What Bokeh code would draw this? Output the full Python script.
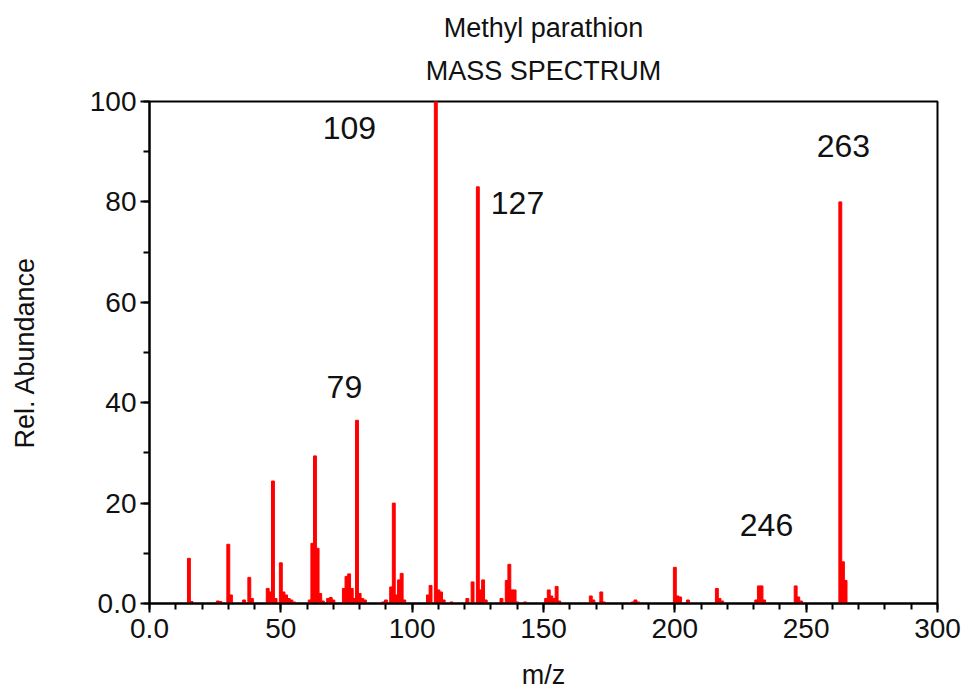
from bokeh.plotting import figure
from bokeh.models import (Range1d, Title, CustomJSTickFormatter, FixedTicker,
                          ColumnDataSource, LabelSet)
from bokeh.core.properties import value
from bokeh.embed import file_html
from bokeh.resources import INLINE

# Methyl parathion EI mass spectrum: m/z and relative abundance (%)
mz = [15, 16, 26, 27, 30, 31, 36, 38, 39,
      45, 46, 47, 48, 50, 51, 52, 53, 54, 55,
      61, 62, 63, 64, 65, 66, 68, 69, 70,
      74, 75, 76, 77, 78, 79, 80, 81, 82,
      89, 90, 92, 93, 94, 95, 96, 97,
      106, 107, 109, 110, 111, 112, 115,
      121, 123, 125, 126, 127, 128,
      134, 136, 137, 138, 139, 140, 143,
      151, 152, 153, 154, 155, 156,
      168, 169, 172, 173, 184, 185, 186,
      200, 201, 202, 205, 216, 217, 218,
      231, 232, 233, 234, 246, 247, 248,
      263, 264, 265]
abundance = [9.0, 0.4, 0.5, 0.4, 11.8, 1.7, 0.7, 5.2, 1.0,
             3.0, 2.3, 24.4, 1.0, 8.1, 2.3, 1.7, 1.0, 0.7, 0.3,
             0.7, 12.0, 29.4, 11.0, 2.0, 0.5, 1.0, 1.2, 0.7,
             3.0, 5.4, 5.9, 3.0, 1.0, 36.5, 2.0, 1.0, 0.7,
             0.3, 0.7, 3.3, 20.0, 1.7, 4.7, 6.0, 0.7,
             1.7, 3.6, 100.0, 2.7, 2.3, 0.7, 0.3,
             1.0, 4.3, 83.0, 2.7, 4.7, 0.7,
             1.0, 4.6, 7.8, 2.7, 2.7, 0.3, 0.3,
             1.0, 2.7, 1.5, 1.0, 3.4, 0.5,
             1.5, 0.7, 2.3, 0.3, 0.3, 0.7, 0.3,
             7.2, 1.5, 1.3, 0.7, 3.0, 1.0, 0.5,
             0.7, 3.5, 3.5, 0.7, 3.5, 1.3, 0.5,
             80.0, 8.3, 4.6]

# annotated ions: text and where the annotation sits (data units)
peak_text = ["109", "127", "263", "79", "246"]
peak_text_x = [76.1, 140.1, 264.2, 74.2, 234.9]
peak_text_y = [94.8, 79.7, 91.2, 43.1, 15.6]

FONT = "Liberation Sans"
INK = "#111111"

p = figure(width=965, height=692, output_backend="svg", toolbar_location=None,
           x_range=Range1d(0, 300), y_range=Range1d(0, 100),
           min_border_left=149, min_border_right=28,
           min_border_top=101, min_border_bottom=88)

p.vbar(x=mz, top=abundance, width=1.1, color="#ff0000")

labels = ColumnDataSource(dict(x=peak_text_x, y=peak_text_y, t=peak_text))
p.add_layout(LabelSet(x="x", y="y", text="t", source=labels,
                      text_align="center", text_baseline="middle",
                      text_font=value(FONT), text_font_size=value("32px"),
                      text_color=INK))

# two-line heading: the later Title is stacked above the earlier one
p.add_layout(Title(text="MASS SPECTRUM", align="center", text_font=FONT,
                   text_font_size="27px", text_font_style="normal",
                   text_color=INK, standoff=32), "above")
p.add_layout(Title(text="Methyl parathion", align="center", text_font=FONT,
                   text_font_size="27px", text_font_style="normal",
                   text_color=INK, standoff=-10), "above")

fmt = CustomJSTickFormatter(code="return tick == 0 ? '0.0' : tick.toFixed(0);")

xa = p.xaxis[0]
xa.ticker = FixedTicker(ticks=[0, 50, 100, 150, 200, 250, 300],
                        minor_ticks=list(range(0, 301, 10)))
ya = p.yaxis[0]
ya.ticker = FixedTicker(ticks=[0, 20, 40, 60, 80, 100],
                        minor_ticks=list(range(0, 101, 10)))
xa.axis_label = "m/z"
ya.axis_label = "Rel. Abundance"

for ax in (xa, ya):
    ax.formatter = fmt
    ax.axis_line_color = "black"
    ax.axis_line_width = 2
    ax.major_tick_line_color = "black"
    ax.major_tick_line_width = 2
    ax.minor_tick_line_color = "black"
    ax.minor_tick_line_width = 2
    ax.major_tick_in = 0
    ax.major_tick_out = 9
    ax.minor_tick_in = 0
    ax.minor_tick_out = 6
    ax.major_label_text_font = FONT
    ax.major_label_text_font_size = "28px"
    ax.major_label_text_color = INK
    ax.axis_label_text_font = FONT
    ax.axis_label_text_font_size = "27px"
    ax.axis_label_text_font_style = "normal"
    ax.axis_label_text_color = INK
xa.major_label_standoff = 6
ya.major_label_standoff = 4
xa.axis_label_standoff = 19
ya.axis_label_standoff = 47

p.xgrid.grid_line_color = None
p.ygrid.grid_line_color = None
p.outline_line_color = "black"
p.outline_line_width = 2
p.outline_line_alpha = 1.0

open("out.html", "w").write(file_html(p, INLINE))
